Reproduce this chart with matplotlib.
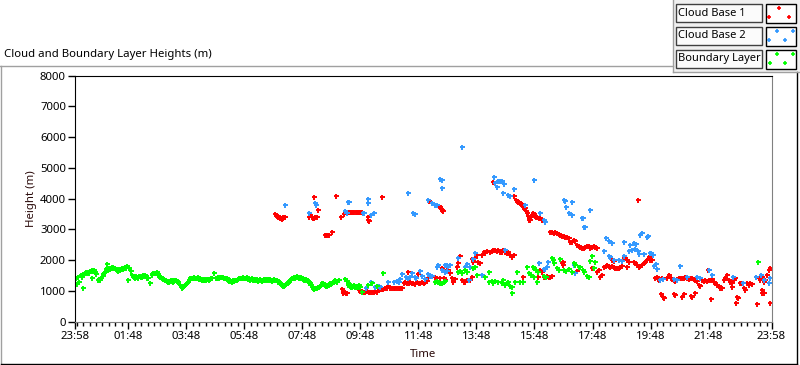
import numpy as np
import matplotlib
matplotlib.use("Agg")
import matplotlib.pyplot as plt
from matplotlib.patches import Rectangle

# hours after 23:58 (start of the record) and heights in metres
bl_time = [
    0.03, 0.06, 0.10, 0.14, 0.20, 0.26, 0.29, 0.34, 0.40, 0.46,
    0.52, 0.57, 0.60, 0.66, 0.72, 0.78, 0.84, 0.90, 0.95, 1.00,
    1.04, 1.09, 1.13, 1.18, 1.23, 1.28, 1.32, 1.38, 1.44, 1.50,
    1.55, 1.61, 1.67, 1.72, 1.78, 1.84, 1.87, 1.92, 1.96, 2.02,
    2.07, 2.13, 2.18, 2.24, 2.30, 2.36, 2.41, 2.47, 2.53, 2.59,
    2.64, 2.70, 2.76, 2.82, 2.87, 2.93, 2.99, 3.05, 3.10, 3.16,
    3.22, 3.28, 3.33, 3.39, 3.45, 3.51, 3.56, 3.62, 3.68, 3.74,
    3.79, 3.85, 3.91, 3.97, 4.03, 4.08, 4.14, 4.20, 4.26, 4.31,
    4.37, 4.43, 4.49, 4.54, 4.60, 4.66, 4.72, 4.80, 4.85, 4.91,
    4.97, 5.03, 5.08, 5.14, 5.20, 5.25, 5.31, 5.37, 5.43, 5.48,
    5.54, 5.60, 5.66, 5.71, 5.77, 5.83, 5.89, 5.94, 6.00, 6.06,
    6.12, 6.18, 6.23, 6.29, 6.35, 6.41, 6.47, 6.52, 6.58, 6.64,
    6.70, 6.76, 6.84, 6.90, 6.95, 7.01, 7.07, 7.13, 7.18, 7.24,
    7.30, 7.36, 7.41, 7.47, 7.53, 7.59, 7.64, 7.70, 7.76, 7.82,
    7.87, 7.93, 7.99, 8.05, 8.10, 8.16, 8.22, 8.28, 8.33, 8.39,
    8.45, 8.51, 8.56, 8.62, 8.68, 8.74, 8.79, 8.85, 8.91, 8.97,
    9.02, 9.11, 9.31, 9.37, 9.42, 9.48, 9.54, 9.60, 9.65, 9.71,
    9.77, 9.83, 9.88, 10.11, 10.23, 10.40, 10.61, 12.41, 12.47, 12.52,
    12.58, 12.64, 12.70, 12.75, 13.21, 13.27, 13.33, 13.44, 13.50, 13.73,
    13.79, 13.85, 14.13, 14.25, 14.28, 14.36, 14.42, 14.47, 14.59, 14.71,
    14.76, 14.82, 14.88, 14.93, 14.99, 15.05, 15.07, 15.17, 15.22, 15.34,
    15.45, 15.57, 15.63, 15.72, 15.78, 15.80, 15.83, 15.90, 15.92, 15.94,
    16.15, 16.24, 16.44, 16.47, 16.52, 16.61, 16.67, 16.72, 16.84, 16.93,
    17.01, 17.13, 17.18, 17.24, 17.36, 17.41, 17.51, 17.55, 17.64, 17.70,
    17.76, 17.82, 17.87, 17.93, 23.52,
]
bl_height = [
    1410, 1216, 1464, 1301, 1520, 1106, 1550, 1573, 1600, 1627,
    1650, 1410, 1680, 1680, 1560, 1356, 1380, 1410, 1490, 1573,
    1627, 1865, 1680, 1710, 1735, 1760, 1790, 1735, 1680, 1700,
    1680, 1735, 1760, 1790, 1820, 1356, 1735, 1650, 1518, 1464,
    1437, 1464, 1464, 1490, 1464, 1518, 1518, 1437, 1410, 1247,
    1520, 1573, 1573, 1627, 1518, 1464, 1410, 1380, 1356, 1330,
    1301, 1320, 1320, 1356, 1356, 1330, 1301, 1200, 1106, 1150,
    1193, 1250, 1301, 1410, 1437, 1437, 1437, 1437, 1410, 1383,
    1370, 1356, 1383, 1383, 1383, 1383, 1437, 1573, 1437, 1437,
    1437, 1450, 1464, 1437, 1410, 1383, 1330, 1320, 1320, 1330,
    1356, 1383, 1410, 1437, 1437, 1437, 1437, 1410, 1383, 1383,
    1383, 1370, 1356, 1356, 1356, 1356, 1370, 1383, 1383, 1383,
    1370, 1356, 1356, 1356, 1356, 1320, 1247, 1193, 1161, 1193,
    1247, 1301, 1356, 1410, 1437, 1437, 1485, 1464, 1437, 1410,
    1383, 1370, 1356, 1301, 1247, 1139, 1085, 1110, 1110, 1139,
    1161, 1247, 1247, 1193, 1161, 1193, 1247, 1274, 1301, 1356,
    1301, 1356, 1383, 1330, 1247, 1161, 1139, 1193, 1139, 1161,
    1193, 1139, 976, 1193, 1274, 1161, 1573, 1300, 1330, 1300,
    1250, 1250, 1300, 1330, 1626, 1660, 1600, 1680, 1626, 1760,
    1789, 1518, 1440, 1626, 1301, 1330, 1247, 1320, 1301, 1247,
    1356, 1193, 1247, 1301, 1170, 1139, 922, 1301, 1626, 1301,
    1301, 1780, 1580, 1519, 1789, 1464, 1736, 1681, 1301, 1626,
    1480, 1464, 2061, 2007, 1920, 1736, 1681, 2030, 1681, 1660,
    1700, 1626, 1899, 1845, 1770, 1789, 1681, 1626, 1480, 1464,
    1990, 2150, 1736, 1950, 1930,
]
# second row of the boundary-layer band (the band is two or three marks thick)
bl_time_2 = [
    0.23, 0.37, 0.49, 0.63, 0.69, 0.81, 0.87, 0.98, 1.07, 1.16,
    1.21, 1.26, 1.35, 1.41, 1.47, 1.58, 1.64, 1.70, 1.75, 1.99,
    2.05, 2.10, 2.16, 2.21, 2.27, 2.33, 2.39, 2.44, 2.67, 2.79,
    2.85, 2.90, 2.96, 3.02, 3.13, 3.19, 3.25, 3.31, 3.36, 3.42,
    3.48, 3.65, 3.71, 3.77, 3.82, 3.88, 3.94, 4.00, 4.06, 4.11,
    4.17, 4.23, 4.29, 4.34, 4.40, 4.46, 4.52, 4.57, 4.63, 4.69,
    4.88, 4.94, 5.00, 5.06, 5.11, 5.17, 5.23, 5.28, 5.34, 5.40,
    5.46, 5.51, 5.57, 5.63, 5.69, 5.74, 5.80, 5.86, 5.92, 5.97,
    6.03, 6.09, 6.15, 6.21, 6.26, 6.32, 6.38, 6.44, 6.50, 6.55,
    6.61, 6.67, 6.73, 6.80, 6.87, 6.98, 7.04, 7.10, 7.16, 7.21,
    7.27, 7.33, 7.39, 7.44, 7.50, 7.56, 7.62, 7.67, 7.73, 7.79,
    7.85, 7.90, 7.96, 8.02, 8.08, 8.13, 8.19, 8.25, 8.31, 8.36,
    8.42, 8.48, 8.54, 8.59, 8.65, 8.71, 8.77, 8.82, 8.88, 8.94,
    9.00, 9.40, 9.45, 9.51, 9.57, 9.63, 9.68, 9.74,
]
bl_height_2 = [
    1440, 1620, 1600, 1640, 1620, 1400, 1340, 1540, 1700, 1760,
    1700, 1790, 1760, 1700, 1650, 1720, 1700, 1740, 1760, 1490,
    1490, 1490, 1430, 1490, 1440, 1490, 1480, 1480, 1550, 1600,
    1560, 1490, 1440, 1400, 1340, 1320, 1300, 1340, 1300, 1330,
    1340, 1150, 1130, 1170, 1220, 1280, 1350, 1410, 1410, 1460,
    1410, 1440, 1400, 1380, 1380, 1360, 1360, 1400, 1360, 1410,
    1410, 1460, 1460, 1440, 1440, 1410, 1410, 1360, 1350, 1300,
    1350, 1350, 1360, 1400, 1410, 1410, 1460, 1410, 1460, 1400,
    1360, 1410, 1360, 1380, 1380, 1330, 1380, 1330, 1360, 1360,
    1360, 1400, 1380, 1330, 1380, 1300, 1280, 1220, 1190, 1160,
    1220, 1270, 1330, 1380, 1410, 1460, 1460, 1440, 1410, 1440,
    1410, 1350, 1380, 1330, 1270, 1190, 1110, 1060, 1085, 1140,
    1120, 1190, 1220, 1220, 1170, 1190, 1220, 1220, 1300, 1330,
    1330, 1190, 1220, 1140, 1170, 1170, 1120, 1140,
]

cb1_time = [
    6.90, 6.93, 6.97, 7.01, 7.05, 7.07, 7.10, 7.13, 7.16, 7.18,
    7.22, 7.24, 8.05, 8.10, 8.16, 8.20, 8.22, 8.25, 8.28, 8.33,
    8.37, 8.62, 8.66, 8.70, 8.74, 8.85, 8.98, 9.15, 9.28, 9.31,
    9.35, 9.39, 9.43, 9.47, 9.51, 9.55, 9.59, 9.63, 9.67, 9.71,
    9.75, 9.79, 9.83, 9.88, 10.08, 10.11, 10.14, 10.59, 12.21, 12.55,
    12.58, 12.61, 12.64, 12.67, 14.42, 15.14, 15.20, 15.24, 15.28, 15.31,
    15.34, 15.37, 15.40, 15.43, 15.45, 15.48, 15.51, 15.54, 15.57, 15.60,
    15.63, 15.66, 15.69, 15.72, 15.75, 15.78, 15.81, 15.84, 15.88, 15.93,
    15.98, 16.03, 16.09, 16.38, 16.44, 16.49, 16.55, 16.61, 16.67, 16.72,
    16.78, 16.84, 16.90, 16.95, 17.01, 17.07, 17.13, 17.18, 17.24, 17.30,
    17.36, 17.41, 17.47, 17.53, 17.58, 17.64, 17.70, 17.76, 17.82, 17.87,
    17.93, 17.99, 19.39, 9.20, 9.23, 9.25, 9.30, 9.34, 9.37, 9.77,
    9.83, 9.88, 9.94, 10.00, 10.06, 10.12, 10.17, 10.23, 10.29, 10.35,
    10.40, 10.46, 10.52, 10.57, 10.63, 10.69, 10.75, 10.80, 10.86, 10.92,
    10.98, 11.03, 11.09, 11.15, 11.20, 11.26, 11.32, 11.38, 11.43, 11.49,
    11.52, 11.55, 11.60, 11.66, 11.72, 11.78, 11.83, 11.86, 11.89, 11.95,
    12.01, 12.07, 12.12, 12.18, 12.41, 12.47, 12.58, 12.64, 12.70, 12.75,
    12.81, 12.87, 12.93, 12.98, 13.04, 13.10, 13.15, 13.21, 13.27, 13.33,
    13.39, 13.44, 13.50, 13.61, 13.67, 13.67, 13.73, 13.79, 13.85, 13.90,
    13.96, 14.02, 14.08, 14.13, 14.19, 14.30, 14.36, 14.42, 14.47, 14.53,
    14.59, 14.65, 14.70, 14.76, 14.82, 14.88, 14.93, 14.99, 15.05, 15.11,
    15.42, 15.95, 15.98, 16.03, 16.09, 16.15, 16.20, 16.26, 16.32, 16.38,
    16.44, 16.78, 16.80, 16.82, 17.30, 17.82, 17.99, 18.05, 18.10, 18.16,
    18.22, 18.28, 18.33, 18.39, 18.45, 18.51, 18.56, 18.62, 18.68, 18.73,
    18.79, 18.85, 18.51, 18.56, 18.91, 18.96, 19.02, 19.08, 19.02, 19.25,
    19.31, 19.37, 19.42, 19.48, 19.54, 19.60, 19.65, 19.71, 19.77, 19.83,
    19.88, 20.00, 20.04, 20.08, 20.13, 20.17, 20.23, 20.20, 20.25, 20.30,
    20.40, 20.46, 20.52, 20.57, 20.63, 20.69, 20.75, 20.80, 20.86, 20.92,
    20.98, 21.03, 21.09, 21.15, 21.21, 21.26, 21.32, 21.38, 21.44, 20.63,
    20.69, 20.92, 20.98, 21.21, 21.26, 21.38, 21.49, 21.55, 21.61, 21.66,
    21.72, 21.78, 21.80, 21.84, 21.90, 21.95, 22.01, 22.07, 22.13, 22.18,
    22.24, 22.30, 21.90, 22.35, 22.41, 22.47, 22.52, 22.58, 22.64, 22.70,
    22.75, 22.64, 22.81, 22.85, 22.76, 22.93, 22.99, 23.04, 23.10, 23.16,
    23.22, 23.27, 23.33, 23.45, 23.56, 23.62, 23.68, 23.74, 23.79, 23.85,
    23.91, 23.96, 23.50, 23.66, 23.68, 23.74, 23.96,
]
cb1_height = [
    3500, 3470, 3440, 3400, 3380, 3400, 3362, 3340, 3380, 3400,
    3415, 3415, 3400, 3470, 3400, 3380, 3362, 4040, 3400, 3415,
    3632, 2819, 2819, 2819, 2819, 2928, 4075, 3400, 3500, 3558,
    3558, 3558, 3558, 3558, 3558, 3558, 3558, 3558, 3558, 3558,
    3558, 3558, 3558, 3558, 3415, 3307, 3285, 4040, 3930, 3760,
    3740, 3680, 3632, 3600, 4533, 4098, 3957, 3930, 3903, 3880,
    3850, 3820, 3795, 3770, 3740, 3710, 3686, 3600, 3523, 3440,
    3362, 3320, 3307, 3400, 3470, 3525, 3500, 3450, 3415, 3390,
    3360, 3380, 3307, 2930, 2930, 2900, 2910, 2874, 2850, 2819,
    2800, 2780, 2764, 2764, 2711, 2602, 2602, 2650, 2630, 2494,
    2470, 2439, 2410, 2410, 2440, 2470, 2450, 2410, 2440, 2470,
    2420, 2386, 3957, 1053, 976, 943, 976, 943, 943, 1020,
    1000, 1000, 976, 976, 1000, 976, 976, 976, 976, 1000,
    976, 1053, 1053, 1053, 1053, 1100, 1100, 1161, 1100, 1085,
    1085, 1085, 1085, 1085, 1085, 1110, 1250, 1300, 1247, 1626,
    1247, 1301, 1247, 1247, 1240, 1301, 1540, 1247, 1247, 1301,
    1247, 1301, 1320, 1411, 1464, 1411, 1411, 1736, 1411, 1356,
    1680, 1680, 1573, 1411, 1301, 1400, 1789, 1898, 2145, 1356,
    1301, 1301, 1356, 1356, 1464, 2030, 1950, 2060, 2160, 1950,
    1898, 2170, 2280, 2224, 2300, 2280, 2300, 2330, 2330, 2300,
    2330, 2280, 2260, 2330, 2277, 2224, 2277, 2169, 2114, 2169,
    1464, 1464, 1900, 1681, 1626, 1464, 1464, 1480, 1464, 1464,
    1500, 1898, 1844, 1950, 1660, 1760, 1626, 1681, 1464, 1519,
    1789, 1820, 1844, 1820, 1789, 1800, 1789, 1736, 1760, 1736,
    1789, 1820, 2007, 1990, 2061, 2080, 2007, 1951, 1789, 1951,
    1898, 1844, 1789, 1820, 1844, 1898, 1951, 2007, 2114, 2007,
    2007, 1411, 1464, 1380, 1356, 1356, 1411, 900, 813, 759,
    1430, 1519, 1411, 1380, 1356, 1330, 1380, 1411, 1430, 1411,
    1430, 1464, 1411, 1380, 1430, 1411, 1380, 1356, 1330, 900,
    868, 813, 900, 840, 790, 940, 1193, 1170, 1356, 1330,
    1356, 1330, 1681, 1356, 1356, 1380, 1301, 1247, 1193, 1160,
    1110, 1110, 730, 1356, 1411, 1530, 1356, 1301, 1274, 1356,
    1411, 1139, 813, 759, 596, 1247, 1274, 1085, 1030, 1247,
    1193, 1274, 1220, 1464, 1411, 1356, 1464, 1301, 1356, 1519,
    1681, 1736, 570, 1030, 922, 922, 596,
]

cb2_time = [
    7.25, 8.05, 8.28, 8.31, 9.31, 9.37, 9.42, 9.45, 9.94, 9.97,
    10.08, 10.11, 10.19, 10.32, 11.47, 11.66, 11.72, 12.18, 12.30, 12.41,
    12.47, 12.58, 12.64, 12.64, 13.33, 14.44, 14.47, 14.53, 14.59, 14.65,
    14.71, 14.79, 14.74, 14.93, 14.99, 15.13, 15.49, 15.80, 15.83, 16.01,
    16.15, 16.20, 16.86, 16.90, 16.93, 17.01, 17.13, 17.13, 17.47, 17.50,
    17.53, 17.56, 17.74, 18.31, 18.40, 18.50, 18.93, 19.25, 19.33, 19.46,
    19.54, 19.71, 19.74, 10.03, 10.20, 10.34, 10.46, 10.51, 10.80, 10.98,
    11.09, 11.15, 11.26, 11.20, 11.40, 11.46, 11.55, 11.60, 11.70, 11.75,
    11.90, 11.95, 12.05, 12.18, 12.24, 12.30, 12.47, 12.52, 12.64, 12.75,
    12.81, 12.87, 12.93, 12.75, 12.81, 13.21, 13.44, 13.50, 13.56, 13.62,
    13.73, 13.77, 14.02, 14.82, 15.98, 16.15, 16.20, 16.30, 16.25, 17.18,
    17.22, 18.22, 18.39, 18.45, 18.56, 18.73, 18.85, 18.91, 19.08, 19.14,
    19.20, 19.31, 19.40, 19.45, 19.60, 19.80, 19.86, 19.90, 20.06, 19.96,
    20.02, 20.83, 20.17, 20.25, 20.63, 20.75, 21.09, 21.44, 21.55, 21.84,
    21.95, 22.67, 23.01, 23.45, 23.65, 23.74, 23.96, 23.90,
]
cb2_height = [
    3783, 3525, 3850, 3795, 3610, 3525, 3905, 3880, 3525, 3540,
    3870, 4000, 3470, 3525, 4175, 3530, 3500, 3957, 3850, 3800,
    3790, 4640, 4610, 4335, 5690, 4695, 4500, 4370, 4590, 4560,
    4590, 4470, 4180, 4120, 4100, 4300, 3790, 4610, 4608, 3525,
    3307, 3250, 3957, 3930, 3720, 3540, 3903, 3470, 3380, 3360,
    3065, 3070, 3632, 2711, 2630, 2548, 2580, 2548, 2530, 2820,
    2870, 2760, 2780, 1085, 1280, 1120, 1160, 1140, 1290, 1300,
    1330, 1300, 1540, 1380, 1450, 1430, 1450, 1600, 1450, 1420,
    1650, 1480, 1400, 1550, 1480, 1500, 1790, 1860, 1680, 1840,
    1860, 1820, 1840, 1620, 1650, 2060, 1790, 1870, 1350, 1790,
    2030, 2220, 1520, 2330, 1900, 1700, 1700, 1950, 1780, 1843,
    1600, 2300, 2150, 2100, 2000, 2000, 1990, 2150, 2300, 2500,
    2330, 2380, 2300, 2200, 2200, 2250, 2230, 2170, 1710, 1800,
    1880, 1820, 1350, 1400, 1380, 1356, 1464, 1464, 1411, 1680,
    1519, 1464, 1247, 1464, 1519, 1356, 1411, 1247,
]

series_names = ["Cloud Base 1", "Cloud Base 2", "Boundary Layer"]
series_colors = ["#ff0000", "#3399ff", "#00ff00"]

major_ticks = [0, 1.8333, 3.8333, 5.8333, 7.8333, 9.8333, 11.8333,
               13.8333, 15.8333, 17.8333, 19.8333, 21.8333, 24]
major_labels = ["23:58", "01:48", "03:48", "05:48", "07:48", "09:48", "11:48",
                "13:48", "15:48", "17:48", "19:48", "21:48", "23:58"]

plt.rcParams["font.family"] = ["Noto Sans", "DejaVu Sans"]
FS = 8.2
MARK = dict(linestyle="none", marker="+", ms=3.6, mew=1.4)

fig = plt.figure(figsize=(8, 3.65), dpi=100)

# pixel-space overlay for the panel frame, title and legend boxes
bg = fig.add_axes([0, 0, 1, 1], zorder=0)
bg.set_xlim(0, 800)
bg.set_ylim(365, 0)
bg.axis("off")

bg.plot([0, 673], [65.5, 65.5], color="#a0a0a0", lw=1)
bg.plot([1, 1], [65.5, 364], color="#a0a0a0", lw=1)
bg.plot([1, 797], [364, 364], color="#000000", lw=1)
bg.plot([797, 797], [72, 364], color="#000000", lw=1)
bg.text(4, 54, "Cloud and Boundary Layer Heights (m)", fontsize=FS,
        va="center", ha="left", color="#000000")

# legend panel
bg.add_patch(Rectangle((673, 0), 127, 72, facecolor="#f0f0f0", edgecolor="none"))
bg.plot([673, 673], [0, 72], color="#a0a0a0", lw=1)
bg.plot([673, 800], [72, 72], color="#a0a0a0", lw=1)
legend_marks = [
    [(779, 8), (769, 17), (789, 17)],
    [(777, 31), (793, 31), (769, 40), (785, 40)],
    [(777, 54), (793, 54), (770, 63), (785, 63)],
]
for i, name in enumerate(series_names):
    y0 = 4 + i * 23
    bg.add_patch(Rectangle((676, y0), 86, 18, facecolor="#fbfbfb",
                           edgecolor="#404040", lw=1))
    bg.add_patch(Rectangle((766, y0), 30, 19, facecolor="white",
                           edgecolor="#000000", lw=1))
    bg.text(678.5, y0 + 9, name, fontsize=8.0, va="center", ha="left")
    mx, my = zip(*legend_marks[i])
    bg.plot(mx, my, color=series_colors[i], **dict(MARK, ms=3.0, mew=1.2))

ax = fig.add_axes([75 / 800, (365 - 321.7) / 365, (771.5 - 75) / 800,
                   (321.7 - 75.7) / 365], zorder=1)
ax.set_facecolor("white")

ax.plot(cb1_time, cb1_height, color=series_colors[0], **MARK)
ax.plot(cb2_time, cb2_height, color=series_colors[1], **MARK)
ax.plot(bl_time + bl_time_2, bl_height + bl_height_2,
        color=series_colors[2], **MARK)

ax.set_xlim(0, 24)
ax.set_ylim(0, 8000)
ax.set_yticks(np.arange(0, 8001, 1000))
ax.set_yticklabels([str(v) for v in range(0, 8001, 1000)])
ax.set_xticks(major_ticks)
ax.set_xticklabels(major_labels)
minor = [t for t in np.arange(1.8333 - 8 * 2 / 9, 24, 2 / 9) if 0 < t < 24]
ax.set_xticks(minor, minor=True)

ax.tick_params(axis="both", which="major", direction="out", length=5,
               width=1, color="black", labelsize=FS, pad=1.5)
ax.tick_params(axis="x", which="minor", direction="out", length=3, width=1)
ax.spines["left"].set_color("black")
ax.spines["top"].set_color("black")
ax.spines["right"].set_color("#808080")
ax.spines["bottom"].set_color("#808080")

ax.set_xlabel("Time", fontsize=FS, color="#2a0a0a", labelpad=5)
ax.set_ylabel("Height (m)", fontsize=FS, color="#2a0a0a", labelpad=2)

fig.savefig("out.png", dpi=100)
